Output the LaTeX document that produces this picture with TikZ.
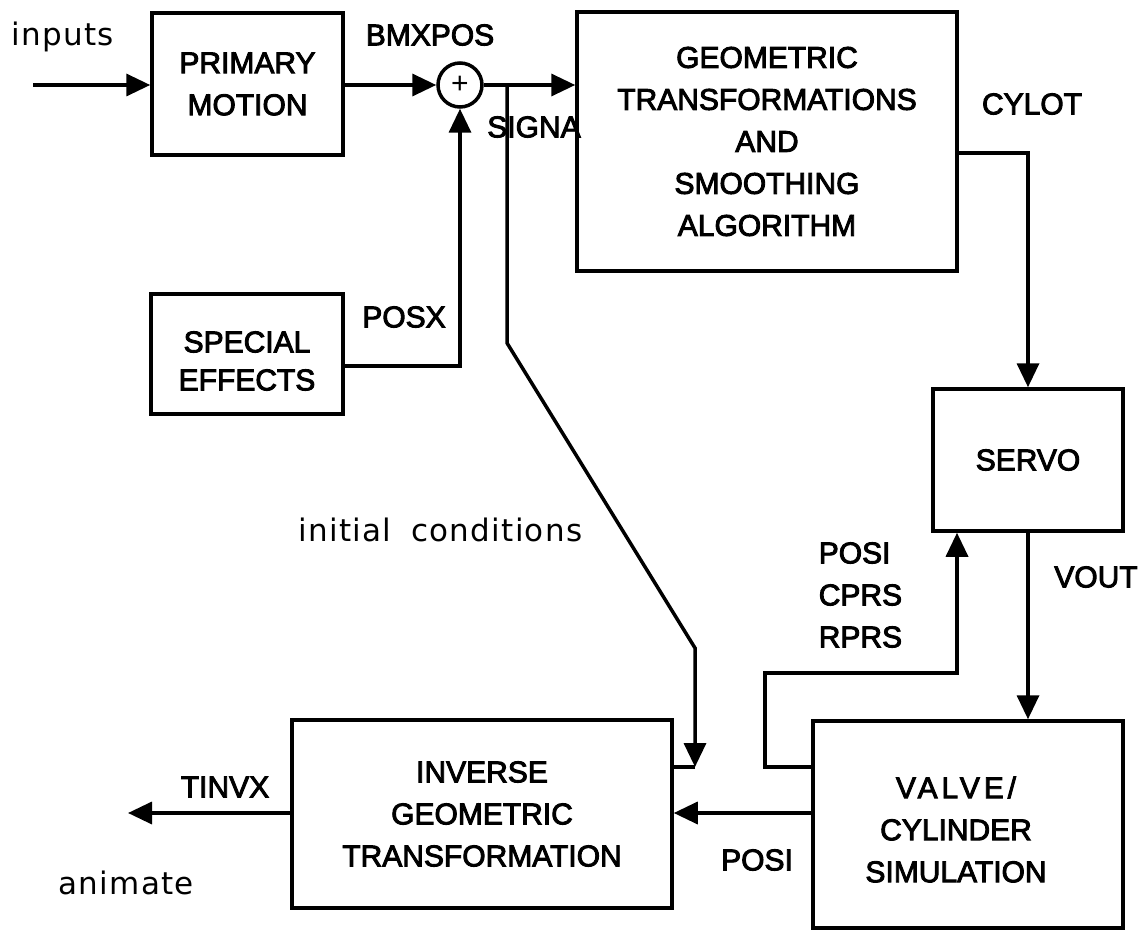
\documentclass[tikz,border=0pt]{standalone}
\usepackage{fontspec}
\setmainfont{Liberation Sans}
\newfontfamily\capsfamily[FakeBold=3]{Liberation Sans}
\newfontfamily\lowerfont[LetterSpace=4]{DejaVu Sans}
\usetikzlibrary{arrows.meta}

\newcommand{\capsfont}{\capsfamily\fontsize{30}{42}\selectfont}
\newcommand{\smallfont}{\lowerfont\fontsize{31}{37}\selectfont}

\begin{document}
\begin{tikzpicture}[->, >={Triangle[length=24pt, width=22pt]}, x=1pt, y=-1pt,
    line width=3.5pt, font=\capsfont,
    block/.style={draw, rectangle, align=center, inner sep=0pt},
    tag/.style={inner sep=0pt}]

                        \useasboundingbox (0,0) rectangle (1144,931);

                        % Blocks of the motion chain
                        \node (primary) [block, minimum width=191pt, minimum height=142pt] at (247.5,84) {PRIMARY\\MOTION};
                        \node (sum) [circle, draw, minimum size=44pt, inner sep=0pt, font=\rmfamily\fontsize{30}{30}\selectfont] at (460,85) {+};
                        \node (geom) [block, minimum width=380pt, minimum height=259pt] at (767,141.5) {GEOMETRIC\\TRANSFORMATIONS\\AND\\SMOOTHING\\ALGORITHM};
                        \node (special) [block, minimum width=192pt, minimum height=120pt,
                            label={[tag, align=center, yshift=-7pt, font=\capsfamily\fontsize{30}{38}\selectfont]center:{SPECIAL\\EFFECTS}}] at (247,354) {};
                        \node (servo) [block, minimum width=190pt, minimum height=142pt] at (1028,460) {SERVO};
                        \node (valve) [block, minimum width=310pt, minimum height=207pt,
                            label={[tag, align=center, xshift=-12pt, yshift=-5pt]center:{{\addfontfeature{LetterSpace=13}VALVE/}\\CYLINDER\\SIMULATION}}] at (968,824.5) {};
                        \node (inverse) [block, minimum width=380pt, minimum height=188pt] at (482,814) {INVERSE\\GEOMETRIC\\TRANSFORMATION};

                        % Free ends and bends of the signal line
                        \coordinate (in) at (33,85);
                        \coordinate (out) at (128,813);
                        \coordinate (split) at (507,85);
                        \coordinate (kink) at (507,343);
                        \coordinate (drop) at (695,648);
                        \coordinate (tip) at (695,767);

                        % Signal names
                        \node (inputs) [tag, anchor=west, font=\smallfont] at (10,37) {inputs};
                        \node (bmxpos) [tag] at (430,35) {BMXPOS};
                        \node (signa) [tag] at (534,127) {SIGNA};
                        \node (posx) [tag] at (404,317) {POSX};
                        \node (cylot) [tag] at (1032,104) {CYLOT};
                        \node (vout) [tag] at (1096,577) {VOUT};
                        \node (states) [tag, anchor=west, align=left] at (817,595) {POSI\\CPRS\\RPRS};
                        \node (init) [tag, anchor=west, font=\smallfont] at (297,530) {initial\hspace{20pt}conditions};
                        \node (tinvx) [tag] at (225,787) {TINVX};
                        \node (posi) [tag] at (757,860) {POSI};
                        \node (animate) [tag, anchor=west, font=\smallfont] at (57,883) {animate};

                        % Edges
                        \draw (in) -- (in -| primary.west);
                        \draw (primary.east |- sum) -- (sum.west);
                        \draw (sum.east) -- (sum.east -| geom.west);
                        \draw ([yshift=-12pt]special.east) -| (sum.south);
                        \draw (split) -- (kink) -- (drop) -- (tip);
                        \draw[-] (tip) -- (tip -| inverse.east);
                        \draw ([yshift=-11.5pt]geom.east) -| (servo.north);
                        \draw (servo.south) -- (servo.south |- valve.north);
                        \draw ([yshift=57.5pt]valve.west) -| (765,673) -| ([xshift=-71pt]servo.south);
                        \draw (valve.west |- 0,813) -- (inverse.east |- 0,813);
                        \draw (inverse.west |- out) -- (out);
                \end{tikzpicture}
\end{document}
